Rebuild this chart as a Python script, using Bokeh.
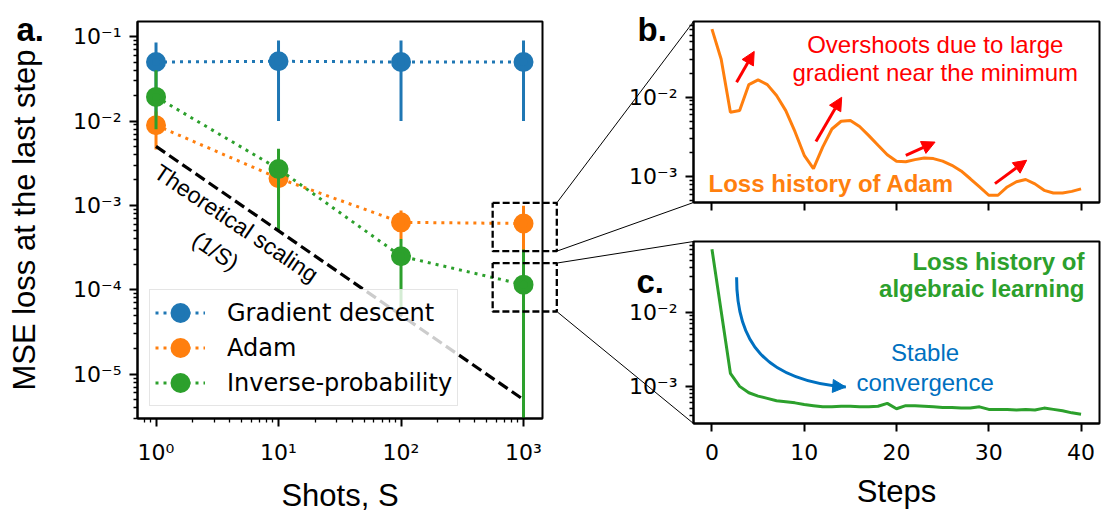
import math
from bokeh.plotting import figure
from bokeh.layouts import row, column
from bokeh.models import (Range1d, FixedTicker, CustomJSTickFormatter, Label, Arrow,
                          NormalHead, Legend, LegendItem)
from bokeh.core.properties import value
from bokeh.embed import file_html
from bokeh.resources import INLINE

# ---------------- data ----------------
shots = [1, 10, 100, 1000]
gd_mse = [0.050, 0.051, 0.050, 0.050]
gd_low = [0.010, 0.010, 0.010, 0.010]
gd_high = [0.085, 0.090, 0.090, 0.090]
adam_mse = [0.0089, 0.0021, 0.00063, 0.00061]
adam_low = [0.0046, 0.0012, 0.00040, 0.00029]
adam_high = [0.0130, 0.0032, 0.00087, 0.00099]
ip_mse = [0.0193, 0.0027, 0.00025, 0.000115]
ip_low = [0.0080, 0.00051, 0.00006, 1e-7]
ip_high = [0.0400, 0.0047, 0.00040, 0.00030]
theory_shots = [1, 1000]
theory_mse = [5e-3, 5e-6]
series_names = ["Gradient descent", "Adam", "Inverse-probability"]

steps = list(range(41))
adam_loss = [0.0715, 0.030, 0.0065, 0.0068, 0.0144, 0.0165, 0.0144, 0.0105, 0.0068, 0.0037,
             0.00187, 0.00127, 0.00237, 0.0040, 0.0050, 0.0051, 0.0043, 0.0033, 0.0025, 0.0019,
             0.00158, 0.00155, 0.00165, 0.00173, 0.0017, 0.00158, 0.0014, 0.00119, 0.00095, 0.00075,
             0.00059, 0.00059, 0.00075, 0.00087, 0.00093, 0.00082, 0.00068, 0.00063, 0.00063, 0.00066,
             0.00071]
alg_loss = [0.0706, 0.0103, 0.0015, 0.0010, 0.00082, 0.00074, 0.00069, 0.00064, 0.00062, 0.00060,
            0.00057, 0.00055, 0.00053, 0.00053, 0.00054, 0.00054, 0.00053, 0.00053, 0.00054, 0.00059,
            0.00050, 0.00055, 0.00055, 0.00054, 0.00053, 0.00052, 0.00052, 0.00051, 0.00051, 0.00053,
            0.00049, 0.00049, 0.00049, 0.00048, 0.00049, 0.00048, 0.00051, 0.00049, 0.00047, 0.00044,
            0.00042]

shots_ticks = [1, 10, 100, 1000]
shots_tick_labels = ["10⁰", "10¹", "10²", "10³"]
mse_ticks = [1e-5, 1e-4, 1e-3, 1e-2, 1e-1]
mse_tick_labels = ["10⁻⁵", "10⁻⁴", "10⁻³", "10⁻²", "10⁻¹"]
loss_ticks = [1e-3, 1e-2]
loss_tick_labels = ["10⁻³", "10⁻²"]
step_ticks = [0, 10, 20, 30, 40]
step_tick_labels = ["0", "10", "20", "30", "40"]

# zoom boxes in panel a (data coordinates)
zoom_box_x = [560, 1870]
zoom_box1_y = [0.00031, 0.00114]
zoom_box2_y = [0.000061, 0.000225]

# annotation anchors (data coordinates)
theory_text = ["Theoretical scaling", "(1/S)"]
theory_text_x = [4.52, 3.07]
theory_text_y = [6.17e-4, 2.88e-4]
overshoot_text = ["Overshoots due to large", "gradient near the minimum"]
overshoot_x = 24.2
overshoot_y = [10 ** -1.341, 10 ** -1.691]
red_arrows = [(2.67, 10 ** -1.8125, 4.58, 10 ** -1.425),
              (11.27, 10 ** -2.554, 14.06, 10 ** -2.0),
              (21.01, 10 ** -2.729, 24.18, 10 ** -2.5625),
              (30.67, 10 ** -3.083, 34.11, 10 ** -2.79)]
alg_text = ["Loss history of", "algebraic learning"]
alg_text_x = 40.37
alg_text_y = [10 ** -1.311, 10 ** -1.684]
stable_text = ["Stable", "convergence"]
stable_x = 23.1
stable_y = [10 ** -2.542, 10 ** -2.942]
curve_pts = dict(x0=2.67, y0=10 ** -1.529, cx0=2.67, cy0=10 ** -2.387,
                 cx1=5.54, cy1=10 ** -2.92, x1=14.5, y1=10 ** -3.009)
panel_tags = ["a.", "b.", "c."]

# ---------------- styling / geometry ----------------
C_BLUE, C_ORANGE, C_GREEN = "#1f77b4", "#ff7f0e", "#2ca02c"
TICK_FONT = "DejaVu Sans"
LABEL_FONT = "Liberation Sans"
MINOR_LOG = [m * 10.0 ** e for e in range(-7, 4) for m in range(2, 10)]

TOTAL_W, TOTAL_H = 1111, 515
# frame geometry (local canvas px): left, right, top, bottom
A_W, A_H, A_FR = 610, 515, (137, 542, 21, 423)
B_W, B_H, B_FR = 501, 236, (83, 489, 21, 202)
C_W, C_H, C_FR = 501, 279, (83, 489, 5, 187)
A_OFF, B_OFF, C_OFF = (0, 0), (610, 0), (610, 236)
A_XR, A_YR = (0.706, 1429.0), (2.985e-6, 0.151)
B_XR, B_YR = (-2.0, 42.0), (10 ** -3.32, 10 ** -1.05)
C_XR, C_YR = (-2.0, 42.0), (10 ** -3.50, 10 ** -1.048)
TAG_POS = [(16, 29), (637, 29), (636, 281)]


def mapper(fr, xr, yr, xlog, ylog):
    l, r, t, b = fr
    fx = math.log10 if xlog else (lambda v: v)
    fy = math.log10 if ylog else (lambda v: v)
    X0, X1, Y0, Y1 = fx(xr[0]), fx(xr[1]), fy(yr[0]), fy(yr[1])

    def to_px(x, y):
        return (l + (fx(x) - X0) / (X1 - X0) * (r - l), b - (fy(y) - Y0) / (Y1 - Y0) * (b - t))
    return to_px


def fmt(tick_values, tick_texts):
    return CustomJSTickFormatter(args=dict(tv=tick_values, tl=tick_texts), code="""
        for (let i = 0; i < tv.length; i++) {
            if (Math.abs(tv[i] - tick) <= 1e-6 * Math.max(Math.abs(tv[i]), 1e-300)) return tl[i];
        }
        return "";
    """)


def style_axis(ax):
    ax.axis_line_color = "black"
    ax.axis_line_width = 2
    ax.major_tick_line_color = "black"
    ax.major_tick_line_width = 2
    ax.major_tick_out = 8
    ax.major_tick_in = 0
    ax.minor_tick_line_color = "black"
    ax.minor_tick_line_width = 1.3
    ax.minor_tick_out = 4
    ax.minor_tick_in = 0
    ax.major_label_text_font = TICK_FONT
    ax.major_label_text_font_size = "22px"
    ax.major_label_text_color = "black"
    ax.major_label_standoff = 8
    ax.axis_label_text_font = LABEL_FONT
    ax.axis_label_text_font_size = "31px"
    ax.axis_label_text_font_style = "normal"
    ax.axis_label_text_color = "black"


def make_fig(w, h, fr, xr, yr, xtype, ytype):
    l, r, t, b = fr
    p = figure(width=w, height=h, x_axis_type=xtype, y_axis_type=ytype,
               x_range=Range1d(*xr), y_range=Range1d(*yr),
               output_backend="svg", toolbar_location=None,
               min_border_left=l, min_border_right=w - r, min_border_top=t, min_border_bottom=h - b)
    p.grid.visible = False
    p.outline_line_color = "black"
    p.outline_line_width = 2
    p.background_fill_color = "white"
    p.border_fill_color = "white"
    style_axis(p.xaxis[0])
    style_axis(p.yaxis[0])
    return p


# ---------------- panel a ----------------
pa = make_fig(A_W, A_H, A_FR, A_XR, A_YR, "log", "log")
a_px = mapper(A_FR, A_XR, A_YR, True, True)
pa.xaxis.ticker = FixedTicker(ticks=shots_ticks, minor_ticks=MINOR_LOG)
pa.xaxis.formatter = fmt(shots_ticks, shots_tick_labels)
pa.yaxis.ticker = FixedTicker(ticks=mse_ticks, minor_ticks=MINOR_LOG)
pa.yaxis.formatter = fmt(mse_ticks, mse_tick_labels)
pa.xaxis.axis_label = "Shots, S"
pa.yaxis.axis_label = "MSE loss at the last step"
pa.xaxis.major_label_standoff = 13
pa.xaxis.axis_label_standoff = 10
pa.yaxis.axis_label_standoff = 28

legend_items = []
for name, mse, lo, hi, col in zip(series_names,
                                  [gd_mse, adam_mse, ip_mse],
                                  [gd_low, adam_low, ip_low],
                                  [gd_high, adam_high, ip_high],
                                  [C_BLUE, C_ORANGE, C_GREEN]):
    ln = pa.line(shots, mse, line_color=col, line_width=3, line_dash="3 5")
    pa.segment(x0=shots, y0=lo, x1=shots, y1=hi, line_color=col, line_width=3)
    sc = pa.scatter(shots, mse, size=14, fill_color=col, line_color=col, line_width=6)
    legend_items.append(LegendItem(label=name, renderers=[ln, sc]))

pa.line(theory_shots, theory_mse, line_color="black", line_width=3.2, line_dash="11 5")
for txt, tx, ty in zip(theory_text, theory_text_x, theory_text_y):
    pa.add_layout(Label(x=tx, y=ty, text=txt, angle=-0.593, text_align="center",
                        text_baseline="middle", text_font=LABEL_FONT, text_font_size="23px",
                        text_color="black"))

legend = Legend(items=legend_items, location=(12, 12), margin=0, padding=5, spacing=0,
                glyph_width=50, glyph_height=35, label_standoff=22,
                label_text_font=TICK_FONT, label_text_font_size="24px", label_text_color="black",
                border_line_color="#cccccc", border_line_width=1.5,
                background_fill_color="white", background_fill_alpha=0.8)
pa.add_layout(legend)

# ---------------- panel b ----------------
pb = make_fig(B_W, B_H, B_FR, B_XR, B_YR, "linear", "log")
pb.xaxis.ticker = FixedTicker(ticks=step_ticks, minor_ticks=[])
pb.xaxis.formatter = CustomJSTickFormatter(code="return '';")
pb.yaxis.ticker = FixedTicker(ticks=loss_ticks, minor_ticks=MINOR_LOG)
pb.yaxis.formatter = fmt(loss_ticks, loss_tick_labels)
pb.line(steps, adam_loss, line_color=C_ORANGE, line_width=3)
for txt, ty in zip(overshoot_text, overshoot_y):
    pb.add_layout(Label(x=overshoot_x, y=ty, text=txt, text_align="center", text_baseline="middle",
                        text_font=LABEL_FONT, text_font_size="24px", text_color="#ff0000"))
for (sx, sy, ex, ey) in red_arrows:
    pb.add_layout(Arrow(end=NormalHead(size=13, fill_color="#ff0000", line_color="#ff0000", line_width=1),
                        x_start=sx, y_start=sy, x_end=ex, y_end=ey,
                        line_color="#ff0000", line_width=3))
pb.add_layout(Label(x=-0.37, y=10 ** -3.083, text="Loss history of Adam", text_align="left",
                    text_baseline="middle", text_font=LABEL_FONT, text_font_size="24px",
                    text_font_style="bold", text_color=C_ORANGE))

# ---------------- panel c ----------------
pc = make_fig(C_W, C_H, C_FR, C_XR, C_YR, "linear", "log")
pc.xaxis.ticker = FixedTicker(ticks=step_ticks, minor_ticks=[])
pc.xaxis.formatter = fmt(step_ticks, step_tick_labels)
pc.yaxis.ticker = FixedTicker(ticks=loss_ticks, minor_ticks=MINOR_LOG)
pc.yaxis.formatter = fmt(loss_ticks, loss_tick_labels)
pc.xaxis.axis_label = "Steps"
pc.xaxis.major_label_standoff = 12
pc.xaxis.axis_label_standoff = 11
pc.line(steps, alg_loss, line_color=C_GREEN, line_width=3)
for txt, ty in zip(alg_text, alg_text_y):
    pc.add_layout(Label(x=alg_text_x, y=ty, text=txt, text_align="right", text_baseline="middle",
                        text_font=LABEL_FONT, text_font_size="24px", text_font_style="bold",
                        text_color=C_GREEN))
for txt, ty in zip(stable_text, stable_y):
    pc.add_layout(Label(x=stable_x, y=ty, text=txt, text_align="center", text_baseline="middle",
                        text_font=LABEL_FONT, text_font_size="24px", text_color="#0070c0"))
pc.bezier(x0=[curve_pts["x0"]], y0=[curve_pts["y0"]], x1=[curve_pts["x1"]], y1=[curve_pts["y1"]],
          cx0=[curve_pts["cx0"]], cy0=[curve_pts["cy0"]], cx1=[curve_pts["cx1"]], cy1=[curve_pts["cy1"]],
          line_color="#0070c0", line_width=3)
pc.add_layout(Arrow(end=NormalHead(size=13, fill_color="#0070c0", line_color="#0070c0", line_width=1),
                    x_start=13.37, y_start=10 ** -2.997, x_end=curve_pts["x1"], y_end=curve_pts["y1"],
                    line_color="#0070c0", line_width=3))

# ---------------- overlay: zoom boxes, connectors, panel tags ----------------
po = figure(width=TOTAL_W, height=TOTAL_H, x_range=Range1d(0, TOTAL_W), y_range=Range1d(TOTAL_H, 0),
            output_backend="svg", toolbar_location=None, min_border=0,
            x_axis_location=None, y_axis_location=None,
            styles={"position": "absolute", "left": "0px", "top": "0px", "pointer-events": "none"})
po.grid.visible = False
po.outline_line_color = None
po.background_fill_alpha = 0
po.border_fill_alpha = 0

box_xs, box_ys = [], []
for ylo, yhi in [zoom_box1_y, zoom_box2_y]:
    (x0, y0) = a_px(zoom_box_x[0], yhi)
    (x1, y1) = a_px(zoom_box_x[1], ylo)
    box_xs.append([x0 + A_OFF[0], x1 + A_OFF[0], x1 + A_OFF[0], x0 + A_OFF[0], x0 + A_OFF[0]])
    box_ys.append([y0 + A_OFF[1], y0 + A_OFF[1], y1 + A_OFF[1], y1 + A_OFF[1], y0 + A_OFF[1]])
po.multi_line(box_xs, box_ys, line_color="black", line_width=2.3, line_dash="7 3")

corners = [(B_OFF[0] + B_FR[0], B_OFF[1] + B_FR[2]), (B_OFF[0] + B_FR[0], B_OFF[1] + B_FR[3]),
           (C_OFF[0] + C_FR[0], C_OFF[1] + C_FR[2]), (C_OFF[0] + C_FR[0], C_OFF[1] + C_FR[3])]
starts = [a_px(zoom_box_x[1], zoom_box1_y[1]), a_px(zoom_box_x[1], zoom_box1_y[0]),
          a_px(zoom_box_x[1], zoom_box2_y[1]), a_px(zoom_box_x[1], zoom_box2_y[0])]
po.segment(x0=[s[0] for s in starts], y0=[s[1] for s in starts],
           x1=[c[0] for c in corners], y1=[c[1] for c in corners],
           line_color="black", line_width=1)

po.text(x=[p[0] for p in TAG_POS], y=[p[1] for p in TAG_POS], text=panel_tags,
        text_font=value(LABEL_FONT), text_font_size="33px", text_font_style="bold",
        text_align="left", text_baseline="alphabetic", text_color="black")

layout = column(row(pa, column(pb, pc)), po, styles={"position": "relative"})
open("out.html", "w").write(file_html(layout, INLINE))
